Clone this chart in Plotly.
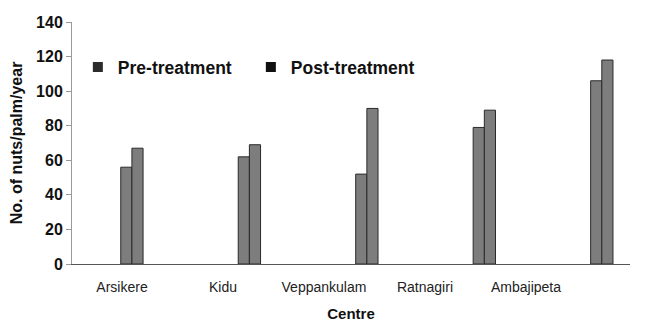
import plotly.graph_objects as go

centres = ["Arsikere", "Kidu", "Veppankulam", "Ratnagiri", "Ambajipeta"]
pre_treatment = [56, 62, 52, 79, 106]
post_treatment = [67, 69, 90, 89, 118]

fig = go.Figure()
fig.add_trace(go.Bar(x=centres, y=pre_treatment, name="Pre-treatment",
                     marker=dict(color="#7d7d7d", line=dict(color="#2a2a2a", width=1)),
                     showlegend=False))
fig.add_trace(go.Bar(x=centres, y=post_treatment, name="Post-treatment",
                     marker=dict(color="#7d7d7d", line=dict(color="#2a2a2a", width=1)),
                     showlegend=False))
# legend entries (dark squares as in the original key)
fig.add_trace(go.Scatter(x=[None], y=[None], name="<b>Pre-treatment</b>", mode="markers",
                         marker=dict(symbol="square", size=10, color="#2b2b2b"),
                         showlegend=True))
fig.add_trace(go.Scatter(x=[None], y=[None], name="<b>Post-treatment</b>", mode="markers",
                         marker=dict(symbol="square", size=10, color="#111111"),
                         showlegend=True))
# category labels on an overlaid axis
fig.add_trace(go.Scatter(x=centres, y=[None]*len(centres), xaxis="x2",
                         showlegend=False, hoverinfo="skip"))

fig.update_layout(
    width=651, height=326,
    margin=dict(l=64, r=29, t=14, b=70),
    paper_bgcolor="white", plot_bgcolor="white",
    barmode="group", bargap=0.81, bargroupgap=0,
    font=dict(family="Liberation Sans, Arial, sans-serif", color="#111"),
    showlegend=True,
    legend=dict(orientation="h", x=0.0105, y=0.814, xanchor="left", yanchor="middle",
                font=dict(size=17.5, family="Liberation Sans, Arial", color="#111"),
                entrywidth=128, entrywidthmode="pixels",
                itemwidth=30, bgcolor="rgba(0,0,0,0)", traceorder="normal"),
    xaxis=dict(type="category", range=[-0.51, 4.24], showticklabels=False, automargin=False,
               showline=True, linecolor="#555", linewidth=1, ticks="",
               showgrid=False, zeroline=False),
    xaxis2=dict(type="category", overlaying="x", side="bottom", autorange=False, automargin=False,
                range=[-0.495, 5.03], categoryorder="array", categoryarray=centres,
                showline=False, showgrid=False, ticks="outside", ticklen=10, tickcolor="rgba(0,0,0,0)",
                tickfont=dict(size=14, color="#222"),
                title=dict(text="<b>Centre</b>", font=dict(size=15, color="#111"), standoff=14)),
    yaxis=dict(range=[0, 140], dtick=20, showline=True, linecolor="#999", linewidth=1,
               automargin=False,
               ticks="outside", ticklen=5, tickcolor="#999", showgrid=False, zeroline=False,
               tickfont=dict(size=16, color="#111", family="Liberation Sans, Arial"),
               tickprefix="<b>", ticksuffix="</b>",
               title=dict(text="<b>No. of nuts/palm/year</b>", font=dict(size=16, color="#111"),
                          standoff=9)),
)

fig.write_html("out.html")
